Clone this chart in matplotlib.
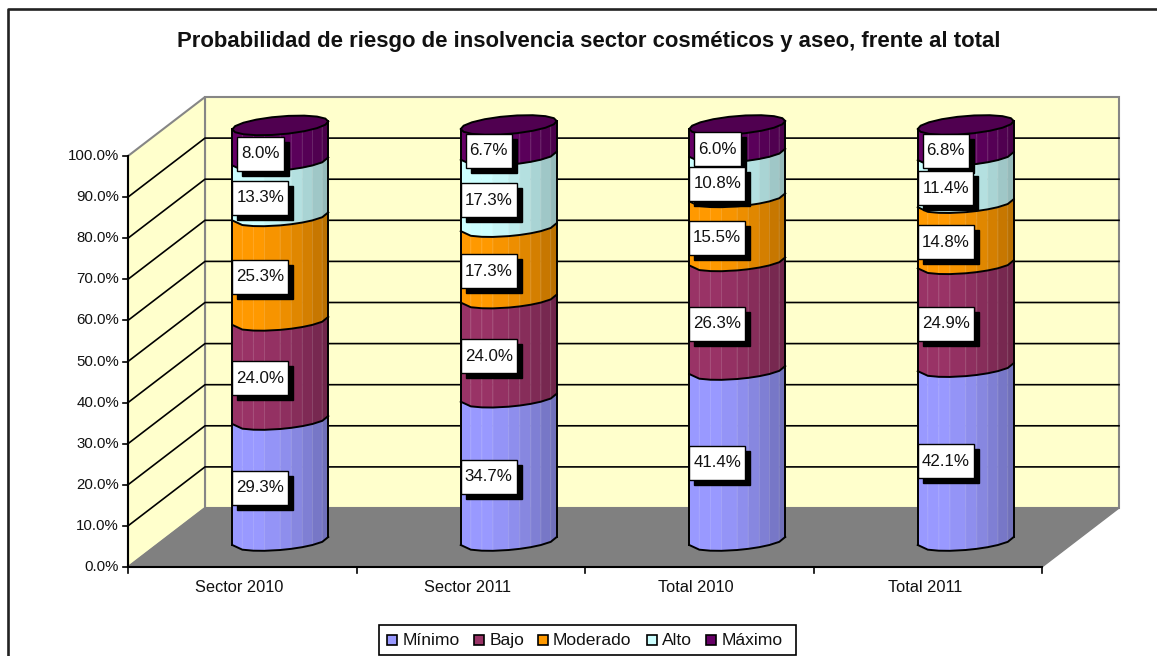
import numpy as np
import matplotlib
matplotlib.use("Agg")
import matplotlib.pyplot as plt
from matplotlib.colors import to_rgb
from matplotlib.patches import Polygon, Rectangle

plt.rcParams['font.family'] = ['Liberation Sans', 'DejaVu Sans']

title = "Probabilidad de riesgo de insolvencia sector cosméticos y aseo, frente al total"
categories = ["Sector 2010", "Sector 2011", "Total 2010", "Total 2011"]
series = ["Mínimo", "Bajo", "Moderado", "Alto", "Máximo"]
minimo = [29.3, 34.7, 41.4, 42.1]
bajo = [24.0, 24.0, 26.3, 24.9]
moderado = [25.3, 17.3, 15.5, 14.8]
alto = [13.3, 17.3, 10.8, 11.4]
maximo = [8.0, 6.7, 6.0, 6.8]
colors = ["#9999FF", "#993366", "#FF9900", "#CCFFFF", "#660066"]
y_ticks = [0, 10, 20, 30, 40, 50, 60, 70, 80, 90, 100]

W, H = 1157, 656
cat_w = 228.5   # px per category
y_px = 4.11     # px per percent
x0 = 242.25     # px of first category on the front plane
y0 = 567        # px of 0% on the front plane
depth_x, depth_y = 77, 59
bar_stretch = 4.13 / y_px
cap_lift = 3    # the top cap sits a little above 100% in the original


def dx(p):
    return p / cat_w


def dy(p):
    return p / y_px


fig = plt.figure(figsize=(W / 100, H / 100), dpi=100)
ax = fig.add_axes([0, 0, 1, 1])
ax.set_xlim(-x0 / cat_w, (W - x0) / cat_w)
ax.set_ylim(-(H - y0) / y_px, y0 / y_px)
ax.axis("off")


def px(x, y):
    # figure pixels to data, for the furniture around the plot
    return (x - x0) / cat_w, (y0 - y) / y_px


# chart frame, only top and left fall inside the picture
ax.plot(*zip(px(8.5, 660), px(8.5, 8.5), px(1160, 8.5)), color="#222222", lw=1.9, zorder=1)
ax.text(*px(589, 42), title, ha="center", va="center", fontsize=15.9, fontweight="bold", color="#111111")

left, right = -0.5, len(categories) - 0.5
wall = "#FFFFCC"
wall_edge = "#868686"
# back wall, side wall, floor
ax.add_patch(Polygon([(left + dx(depth_x), dy(depth_y)), (right + dx(depth_x), dy(depth_y)),
                      (right + dx(depth_x), 100 + dy(depth_y)), (left + dx(depth_x), 100 + dy(depth_y))],
                     fc=wall, ec=wall_edge, lw=1.5, zorder=2))
ax.add_patch(Polygon([(left, 0), (left + dx(depth_x), dy(depth_y)),
                      (left + dx(depth_x), 100 + dy(depth_y)), (left, 100)],
                     fc=wall, ec=wall_edge, lw=1.5, zorder=2))
for v in y_ticks[1:-1]:
    ax.plot([left, left + dx(depth_x), right + dx(depth_x)],
            [v, v + dy(depth_y), v + dy(depth_y)], color="black", lw=1.2, zorder=3)
ax.add_patch(Polygon([(left, 0), (left + dx(depth_x), dy(depth_y)),
                      (right + dx(depth_x), dy(depth_y)), (right, 0)],
                     fc="#808080", ec="#808080", lw=1, zorder=4))

# axes
ax.plot([left, left], [0, 100], color="black", lw=1.5, zorder=5)
ax.plot([left, right], [0, 0], color="black", lw=1.5, zorder=5)
for v in y_ticks:
    ax.plot([left - dx(5), left], [v, v], color="black", lw=1.2, zorder=5)
    ax.text(left - dx(9), v, f"{v:.1f}%", ha="right", va="center", fontsize=10.8, color="#111111")
for i in range(len(categories) + 1):
    ax.plot([left + i, left + i], [0, -dy(6)], color="black", lw=1.2, zorder=5)
for i, c in enumerate(categories):
    ax.text(i - dx(3), -dy(20), c, ha="center", va="center", fontsize=11.8, color="#111111")

# cylinders, drawn as uneven facets like the original
stack = np.array([minimo, bajo, moderado, alto, maximo])
bar_dx = dx(38)
bar_dy = dy(26)
half_w = dx(48)
tilt = dy(4)
front = dy(9)
facet_x = np.array([-1, -0.79, -0.56, -0.33, 0, 0.23, 0.46, 0.67, 0.875, 1])
t = np.arccos(-facet_x)
t_all = np.linspace(0, 2 * np.pi, 19)
shade = [1.0, 1.0, 1.0, 0.97, 0.93, 0.88, 0.83, 0.78, 0.73]


def ring(cx, ang):
    return cx - half_w * np.cos(ang), -tilt * np.cos(ang) - front * np.sin(ang)


def tone(col, k):
    return tuple(np.array(to_rgb(col)) * k)


def tint(rgb, k):
    return tuple(np.array(rgb) * (1 - k) + k)


for i in range(len(categories)):
    cx = i + bar_dx
    base = 0.0
    for s in range(len(series)):
        top = base + stack[s][i]
        last = s == len(series) - 1
        y_lo = bar_dy + base * bar_stretch
        y_hi = bar_dy + top * bar_stretch + (dy(cap_lift) if last else 0)
        xs, ys = ring(cx, t)
        z = 10 + s
        for k in range(len(shade)):
            fc = tone(colors[s], shade[k])
            ax.add_patch(Polygon([(xs[k], y_lo + ys[k]), (xs[k + 1], y_lo + ys[k + 1]),
                                  (xs[k + 1], y_hi + ys[k + 1]), (xs[k], y_hi + ys[k])],
                                 fc=fc, ec=tint(fc, 0.15), lw=0.6, zorder=z))
        ax.plot(xs, y_lo + ys, color="black", lw=1.4, zorder=z + 0.5)
        ax.plot([xs[0], xs[0]], [y_lo + ys[0], y_hi + ys[0]], color="black", lw=1.4, zorder=z + 0.5)
        ax.plot([xs[-1], xs[-1]], [y_lo + ys[-1], y_hi + ys[-1]], color="black", lw=1.4, zorder=z + 0.5)
        if last:
            xa, ya = ring(cx, t_all)
            ax.add_patch(Polygon(list(zip(xa, y_hi + ya)), fc=tone(colors[s], 0.78), ec="black",
                                 lw=1.4, zorder=z + 0.6))
        base = top

# data labels
fig.canvas.draw()
renderer = fig.canvas.get_renderer()
for i in range(len(categories)):
    base = 0.0
    for s in range(len(series)):
        val = stack[s][i]
        mid = base + val / 2
        base += val
        lx = i + bar_dx - dx(20)
        ly = mid + dy(19)
        txt = ax.text(lx, ly, f"{val:.1f}%", ha="center", va="center", fontsize=12.2, color="#111111", zorder=32)
        tw = txt.get_window_extent(renderer).width + 8
        ax.add_patch(Rectangle((lx - dx(tw / 2) + dx(5), ly - dy(17) - dy(5)), dx(tw), dy(34),
                               fc="black", ec="black", lw=1, zorder=30))
        ax.add_patch(Rectangle((lx - dx(tw / 2), ly - dy(17)), dx(tw), dy(34),
                               fc="white", ec="black", lw=1, zorder=31))

# legend
ax.add_patch(Rectangle(px(379, 655), dx(417), dy(30), fc="white", ec="black", lw=1.2, zorder=5))
swatch_x = [387, 474, 538, 647, 706]
text_x = [403, 490, 553, 662, 722]
for s in range(len(series)):
    ax.add_patch(Rectangle(px(swatch_x[s], 645), dx(10), dy(10), fc=colors[s], ec="black", lw=1.2, zorder=6))
    ax.text(*px(text_x[s], 640.5), series[s], ha="left", va="center", fontsize=12.6, color="#111111", zorder=6)

fig.savefig("out.png", dpi=100)
